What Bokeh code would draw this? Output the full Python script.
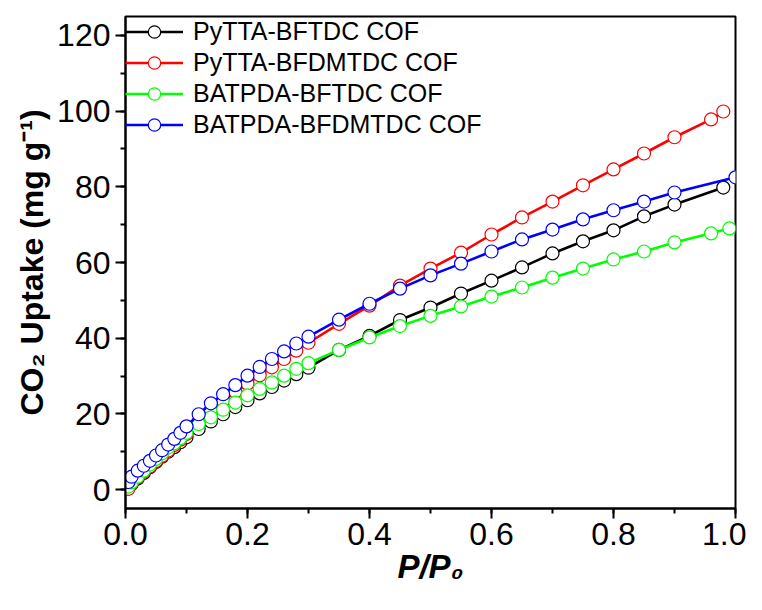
from bokeh.plotting import figure
from bokeh.models import (Range1d, SingleIntervalTicker, PrintfTickFormatter, Legend,
                          LegendItem)
from bokeh.embed import file_html
from bokeh.resources import INLINE

# ---------------- data ----------------
p_black = [0.005, 0.01, 0.02, 0.03, 0.04, 0.05, 0.06, 0.07, 0.08, 0.09, 0.10,
           0.12, 0.14, 0.16, 0.18, 0.20, 0.22, 0.24, 0.26, 0.28, 0.30,
           0.35, 0.40, 0.45, 0.50, 0.55, 0.60, 0.65, 0.70, 0.75, 0.80, 0.85, 0.90,
           0.98]
u_black = [0.5, 1.5, 2.9, 4.4, 5.9, 7.3, 8.7, 10.0, 11.2, 12.5, 13.8,
           16.0, 18.0, 19.9, 21.8, 23.6, 25.4, 27.1, 28.8, 30.5, 32.2,
           36.9, 40.6, 44.8, 48.1, 51.8, 55.2, 58.7, 62.4, 65.6, 68.5, 72.2, 75.3,
           79.8]

p_red = [0.005, 0.01, 0.02, 0.03, 0.04, 0.05, 0.06, 0.07, 0.08, 0.09, 0.10,
         0.12, 0.14, 0.16, 0.18, 0.20, 0.22, 0.24, 0.26, 0.28, 0.30,
         0.35, 0.40, 0.45, 0.50, 0.55, 0.60, 0.65, 0.70, 0.75, 0.80, 0.85, 0.90,
         0.96, 0.98]
u_red = [0.2, 1.6, 3.2, 4.7, 6.1, 7.5, 8.9, 10.3, 11.8, 13.2, 14.7,
         18.0, 21.0, 23.5, 25.8, 28.0, 30.2, 32.3, 34.5, 36.7, 38.8,
         43.8, 48.6, 53.9, 58.4, 62.6, 67.4, 71.9, 76.1, 80.4, 84.6, 88.8, 93.1,
         97.8, 99.9]

p_green = [0.005, 0.01, 0.02, 0.03, 0.04, 0.05, 0.06, 0.07, 0.08, 0.09, 0.10,
           0.12, 0.14, 0.16, 0.18, 0.20, 0.22, 0.24, 0.26, 0.28, 0.30,
           0.35, 0.40, 0.45, 0.50, 0.55, 0.60, 0.65, 0.70, 0.75, 0.80, 0.85, 0.90,
           0.96, 0.99]
u_green = [0.8, 1.9, 3.4, 5.0, 6.6, 8.1, 9.6, 11.1, 12.2, 13.6, 15.0,
           17.3, 19.1, 21.1, 23.0, 24.9, 26.6, 28.3, 30.1, 31.9, 33.4,
           36.9, 40.2, 43.2, 45.9, 48.4, 51.0, 53.4, 56.0, 58.4, 60.8, 62.9, 65.3,
           67.7, 69.0]

p_blue = [0.005, 0.01, 0.02, 0.03, 0.04, 0.05, 0.06, 0.07, 0.08, 0.09, 0.10,
          0.12, 0.14, 0.16, 0.18, 0.20, 0.22, 0.24, 0.26, 0.28, 0.30,
          0.35, 0.40, 0.45, 0.50, 0.55, 0.60, 0.65, 0.70, 0.75, 0.80, 0.85, 0.90,
          1.00]
u_blue = [2.0, 3.4, 5.0, 6.3, 7.6, 9.0, 10.4, 11.9, 13.4, 15.0, 16.7,
          19.9, 22.8, 25.2, 27.6, 30.1, 32.4, 34.5, 36.5, 38.6, 40.4,
          44.9, 49.1, 53.1, 56.6, 59.7, 62.9, 66.1, 68.7, 71.4, 73.8, 76.1, 78.5,
          82.5]

series_names = ["PyTTA-BFTDC COF", "PyTTA-BFDMTDC COF", "BATPDA-BFTDC COF", "BATPDA-BFDMTDC COF"]
series_colors = ["#000000", "#FF0000", "#00FF00", "#0000FF"]
series_x = [p_black, p_red, p_green, p_blue]
series_y = [u_black, u_red, u_green, u_blue]

x_title = "P/P\u2080"
y_title = "CO\u2082 Uptake (mg g\u207b\u00b9)"

FONT = "Liberation Sans"

# ---------------- figure ----------------
p = figure(width=746, height=594, output_backend="svg", toolbar_location=None,
           title=None, x_range=Range1d(0, 1), y_range=Range1d(-5, 125),
           min_border_left=125, min_border_right=11, min_border_top=16, min_border_bottom=86)
p.background_fill_color = "white"
p.border_fill_color = "white"
p.grid.visible = False
p.outline_line_color = "black"
p.outline_line_width = 2

for ax in (p.xaxis[0], p.yaxis[0]):
    ax.axis_line_width = 2
    ax.major_tick_line_width = 2
    ax.minor_tick_line_width = 2
    ax.major_tick_in = 0
    ax.major_tick_out = 10
    ax.minor_tick_in = 0
    ax.minor_tick_out = 5
    ax.major_label_text_font = FONT
    ax.major_label_text_font_size = "32px"
    ax.major_label_text_color = "black"
    ax.axis_label_text_font = FONT
    ax.axis_label_text_color = "black"

p.xaxis[0].major_label_standoff = 4
p.yaxis[0].major_label_standoff = 5
p.xaxis[0].ticker = SingleIntervalTicker(interval=0.2, num_minor_ticks=2)
p.yaxis[0].ticker = SingleIntervalTicker(interval=20, num_minor_ticks=2)
p.xaxis[0].formatter = PrintfTickFormatter(format="%.1f")
p.yaxis[0].formatter = PrintfTickFormatter(format="%d")

p.xaxis[0].axis_label = x_title
p.xaxis[0].axis_label_text_font_size = "33px"
p.xaxis[0].axis_label_text_font_style = "bold italic"
p.xaxis[0].axis_label_standoff = 0

p.yaxis[0].axis_label = y_title
p.yaxis[0].axis_label_text_font_size = "32px"
p.yaxis[0].axis_label_text_font_style = "bold"
p.yaxis[0].axis_label_standoff = 4

items = []
for name, col, xs, ys in zip(series_names, series_colors, series_x, series_y):
    lr = p.line(xs, ys, line_color=col, line_width=2.6)
    sr = p.scatter(xs, ys, marker="circle", size=13, line_color=col, line_width=1.2,
                   fill_color="white")
    items.append(LegendItem(label=name, renderers=[lr, sr]))

legend = Legend(items=items, location="top_left", margin=0, padding=1,
                border_line_color=None, background_fill_alpha=0,
                glyph_width=58, glyph_height=31, label_height=31, spacing=0,
                label_standoff=10, label_text_font=FONT, label_text_font_size="25px",
                label_text_color="black")
p.add_layout(legend)

open("out.html", "w").write(file_html(p, INLINE))
